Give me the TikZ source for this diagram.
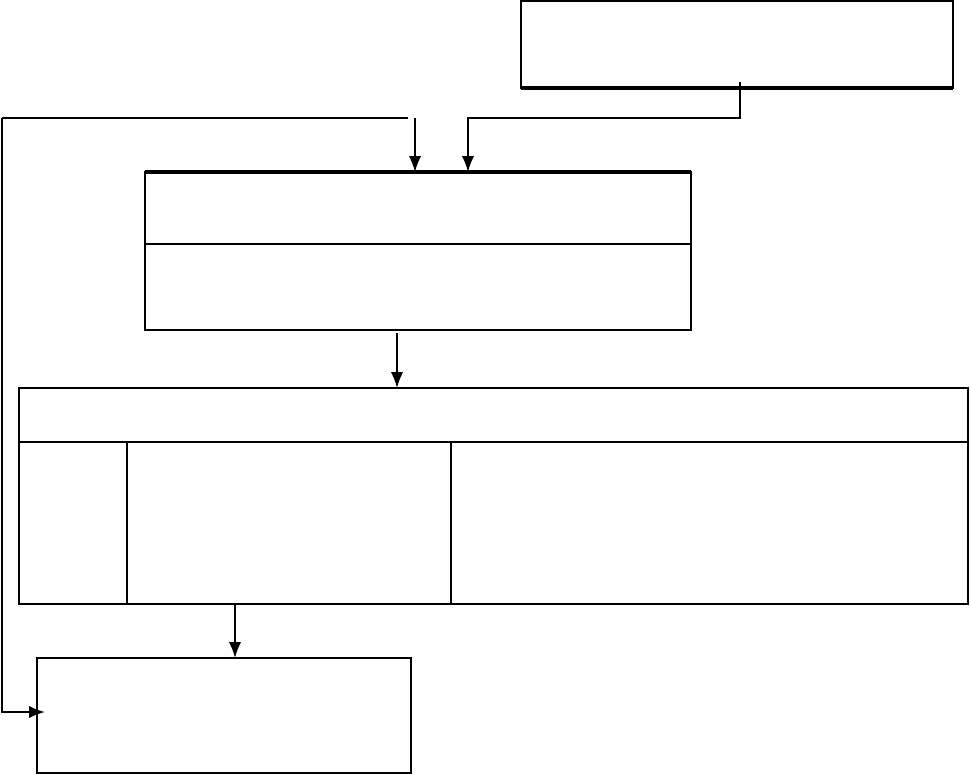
\documentclass[tikz,border=0pt]{standalone}
\usetikzlibrary{arrows.meta}
\begin{document}
\begin{tikzpicture}[x=0.02cm, y=-0.02cm, >={Latex[length=9pt,width=7pt]}, line width=1pt,
  box/.style={draw, rectangle, inner sep=0pt, outer sep=0pt}]
\useasboundingbox (0,0) rectangle (971,774);

\node[box, minimum width=8.64cm, minimum height=1.74cm] (source) at (737,44.5){};
\draw[line width=1.8pt] (source.south west) -- (source.south east);

\node[box, minimum width=10.92cm, minimum height=3.16cm] (stage) at (418,251){};
\draw[line width=1.8pt] (stage.north west) -- (stage.north east);
\draw (stage.west |- 0,244) -- (stage.east |- 0,244);

\node[box, minimum width=18.98cm, minimum height=4.32cm] (table) at (493.5,496){};
\draw (table.west |- 0,442) -- (table.east |- 0,442);
\coordinate (colA) at (127,442);
\coordinate (colB) at (451,442);
\draw[line width=1.3pt] (colA) -- (colA |- table.south);
\draw (colB) -- (colB |- table.south);

\node[box, minimum width=7.48cm, minimum height=2.3cm] (result) at (224,715.5){};

\coordinate (tap) at (740,82);
\coordinate (bend) at (468,118);
\draw[->] (tap) |- (bend) -- (bend |- stage.north);

\coordinate (split) at (415,118);
\draw[->] (split) -- (split |- stage.north);

\coordinate (loop) at (408,118);
\coordinate (corner) at (2,118);
\coordinate (entry) at (45,712);
\draw[line width=1.6pt] (loop) -- (corner);
\draw[->, line width=1.2pt] (corner) |- (entry);

\coordinate (out) at (397,333);
\draw[->] (out) -- (out |- table.north);

\coordinate (cell) at (235,604);
\draw[->] (cell) -- (cell |- result.north);
\end{tikzpicture}
\end{document}
